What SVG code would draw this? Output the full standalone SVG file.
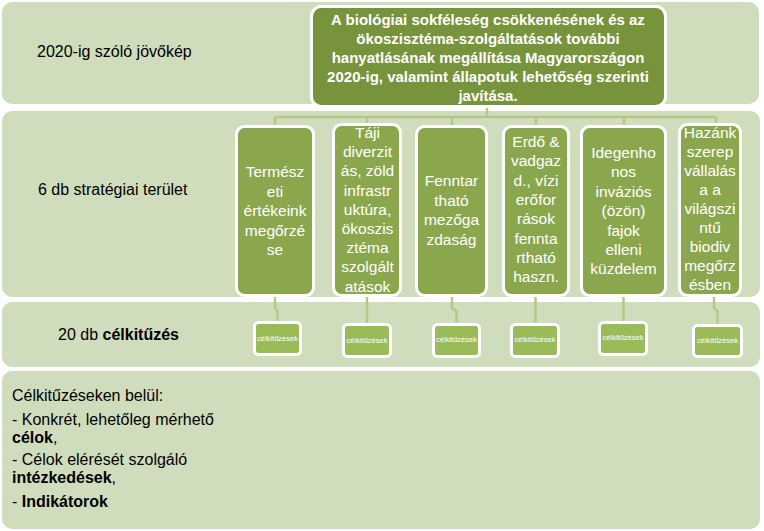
<svg xmlns="http://www.w3.org/2000/svg" width="764" height="531" viewBox="0 0 764 531">
<style>
.band{fill:#d0ddbc}
.lbl{font-family:"Liberation Sans",Arial,sans-serif;font-size:16px;fill:#000}
.b{font-weight:bold}
.main{fill:#77933c;stroke:#fff;stroke-width:3}
.strat{fill:#8ba74e;stroke:#fff;stroke-width:3}
.goal{fill:#9bbb59;stroke:#fff;stroke-width:3}
.st{font-family:"Liberation Sans",Arial,sans-serif;font-size:15.5px;fill:#fff;text-anchor:middle}
.mt{font-family:"Liberation Sans",Arial,sans-serif;font-size:15px;font-weight:bold;fill:#fff;text-anchor:middle}
.gt{font-family:"Liberation Sans",Arial,sans-serif;font-size:7.5px;fill:#fff;text-anchor:middle}
.con{fill:none;stroke:#b3c98a;stroke-width:2.5}
</style>
<g id="bands">
<rect class="band" x="2" y="2" width="757" height="102" rx="10"/>
<rect class="band" x="2" y="111" width="758" height="186" rx="10"/>
<rect class="band" x="2" y="302" width="758" height="65" rx="10"/>
<rect class="band" x="2" y="371" width="758" height="158" rx="10"/>
</g>
<g id="labels">
<text class="lbl" x="37" y="57">2020-ig szóló jövőkép</text>
<text class="lbl" x="38" y="195">6 db stratégiai terület</text>
<text class="lbl" x="58" y="340">20 db <tspan class="b">célkitűzés</tspan></text>
<text class="lbl" x="12" y="401">Célkitűzéseken belül:</text>
<text class="lbl" x="12" y="425">- Konkrét, lehetőleg mérhető</text>
<text class="lbl b" x="12" y="443">célok<tspan font-weight="normal">,</tspan></text>
<text class="lbl" x="12" y="465">- Célok elérését szolgáló</text>
<text class="lbl" x="12" y="483"><tspan class="b">intézkedések</tspan>,</text>
<text class="lbl" x="12" y="507">- <tspan class="b">Indikátorok</tspan></text>
</g>
<g id="connectors">
<path class="con" d="M487 107V117M275 117H716M275 117V125M367 117V123M452 117V125M536 117V125M624 117V125M716 117V123"/>
<path class="con" d="M275 297V308L277.5 311V322"/>
<path class="con" d="M367 297V323"/>
<path class="con" d="M452 297V308L456.5 311V323"/>
<path class="con" d="M535.5 297V323"/>
<path class="con" d="M623.5 297V321"/>
<path class="con" d="M714 297V308L717.5 311V324"/>
</g>
<g id="vision">
<rect class="main" x="311.5" y="6.5" width="354" height="100" rx="10"/>
<text class="mt" x="488" y="24.5">A biológiai sokféleség csökkenésének és az</text>
<text class="mt" x="488" y="43.5">ökoszisztéma-szolgáltatások további</text>
<text class="mt" x="488" y="62.5">hanyatlásának megállítása Magyarországon</text>
<text class="mt" x="488" y="81.5">2020-ig, valamint állapotuk lehetőség szerinti</text>
<text class="mt" x="488" y="100.5">javítása.</text>
</g>
<g id="area1">
<rect class="strat" x="236.5" y="126.5" width="77" height="169" rx="8"/>
<text class="st" x="275" y="177">Termész<tspan x="275" dy="19.5">eti</tspan><tspan x="275" dy="19.5">értékeink</tspan><tspan x="275" dy="19.5">megőrzé</tspan><tspan x="275" dy="19.5">se</tspan></text>
</g>
<g id="area2">
<rect class="strat" x="333.5" y="124.5" width="67" height="171" rx="8"/>
<text class="st" x="367.5" y="138">Táji<tspan x="367.5" dy="19.2">diverzit</tspan><tspan x="367.5" dy="19.2">ás, zöld</tspan><tspan x="367.5" dy="19.2">infrastr</tspan><tspan x="367.5" dy="19.2">uktúra,</tspan><tspan x="367.5" dy="19.2">ökoszis</tspan><tspan x="367.5" dy="19.2">ztéma</tspan><tspan x="367.5" dy="19.2">szolgált</tspan><tspan x="367.5" dy="19.2">atások</tspan></text>
</g>
<g id="area3">
<rect class="strat" x="416.5" y="126.5" width="70" height="169" rx="8"/>
<text class="st" x="451.5" y="186">Fenntar<tspan x="451.5" dy="19.5">tható</tspan><tspan x="451.5" dy="19.5">mezőga</tspan><tspan x="451.5" dy="19.5">zdaság</tspan></text>
</g>
<g id="area4">
<rect class="strat" x="503.5" y="126.5" width="65" height="169" rx="8"/>
<text class="st" x="536" y="147">Erdő &amp;<tspan x="536" dy="19.3">vadgaz</tspan><tspan x="536" dy="19.3">d., vízi</tspan><tspan x="536" dy="19.3">erőfor</tspan><tspan x="536" dy="19.3">rások</tspan><tspan x="536" dy="19.3">fennta</tspan><tspan x="536" dy="19.3">rtható</tspan><tspan x="536" dy="19.3">haszn.</tspan></text>
</g>
<g id="area5">
<rect class="strat" x="581.5" y="126.5" width="84" height="169" rx="8"/>
<text class="st" x="623.5" y="158">Idegenho<tspan x="623.5" dy="19.4">nos</tspan><tspan x="623.5" dy="19.4">inváziós</tspan><tspan x="623.5" dy="19.4">(özön)</tspan><tspan x="623.5" dy="19.4">fajok</tspan><tspan x="623.5" dy="19.4">elleni</tspan><tspan x="623.5" dy="19.4">küzdelem</tspan></text>
</g>
<g id="area6">
<rect class="strat" x="679.5" y="124.5" width="61" height="171" rx="8"/>
<text class="st" x="710" y="137.5">Hazánk<tspan x="710" dy="19.1">szerep</tspan><tspan x="710" dy="19.1">vállalás</tspan><tspan x="710" dy="19.1">a a</tspan><tspan x="710" dy="19.1">világszi</tspan><tspan x="710" dy="19.1">ntű</tspan><tspan x="710" dy="19.1">biodiv</tspan><tspan x="710" dy="19.1">megőrz</tspan><tspan x="710" dy="19.1">ésben</tspan></text>
</g>
<g id="goal1"><rect class="goal" x="254.5" y="322.5" width="46" height="32" rx="4"/><text class="gt" x="277.5" y="341">célkitűzések</text></g>
<g id="goal2"><rect class="goal" x="343.5" y="324.5" width="47" height="32" rx="4"/><text class="gt" x="367" y="343">célkitűzések</text></g>
<g id="goal3"><rect class="goal" x="433.5" y="324.5" width="46" height="32" rx="4"/><text class="gt" x="456.5" y="342">célkitűzések</text></g>
<g id="goal4"><rect class="goal" x="511.5" y="324.5" width="47" height="32" rx="4"/><text class="gt" x="535" y="342">célkitűzések</text></g>
<g id="goal5"><rect class="goal" x="599.5" y="322.5" width="47" height="32" rx="4"/><text class="gt" x="623" y="340">célkitűzések</text></g>
<g id="goal6"><rect class="goal" x="693.5" y="325.5" width="48" height="31" rx="4"/><text class="gt" x="717.5" y="343">célkitűzések</text></g>
</svg>
